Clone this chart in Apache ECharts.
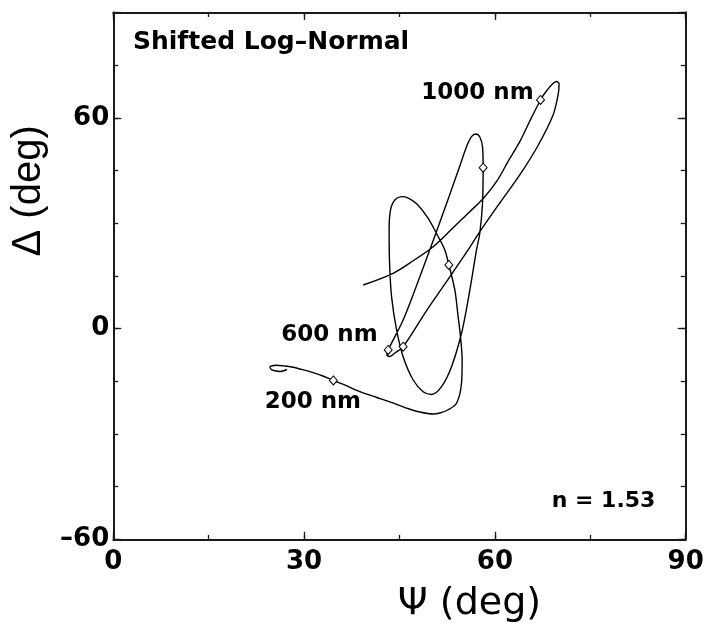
<!DOCTYPE html>
<html>
<head>
<meta charset="utf-8">
<script src="https://cdn.jsdelivr.net/npm/echarts@6/dist/echarts.min.js"></script>
<style>
html,body{margin:0;padding:0;background:#fff;}
#chart{width:705px;height:623px;}
</style>
</head>
<body>
<div id="chart"></div>
<script>
// Psi (deg) along the curve, 200 nm -> 1000 nm and beyond
const psi = [
  27.30, 26.20, 24.94, 24.63, 25.57, 26.98, 28.08, 29.34, 30.91, 32.95,
  34.60, 36.73, 38.77, 41.44, 43.96, 46.31, 48.20, 50.24, 51.34, 52.60,
  53.97, 54.75, 54.85, 54.59, 54.22, 53.70, 52.76, 52.13, 51.03, 49.46,
  47.73, 46.31, 45.45, 44.27, 43.59, 43.37, 43.44, 43.75, 44.54, 45.57,
  47.15, 48.72, 50.04, 51.61, 53.18, 54.75, 55.79, 57.11, 57.63, 58.05,
  58.15, 58.05, 57.63, 57.00, 56.32, 55.54, 54.48, 52.60, 50.56, 48.20,
  45.57, 43.22, 43.01, 43.48, 44.27, 45.57, 48.98, 52.39, 55.79, 57.63,
  60.77, 63.91, 66.74, 69.15, 69.93, 70.09, 69.68, 68.90, 67.84, 67.17,
  65.49, 63.91, 62.03, 60.25, 58.10, 56.05, 53.23, 50.29, 47.10, 44.00,
  39.29
];
// Delta (deg) along the curve
const delta = [
  -11.65, -12.22, -11.79, -10.93, -10.45, -10.65, -10.93, -11.50, -12.27, -13.50,
  -14.78, -16.34, -17.97, -19.62, -21.18, -22.75, -23.75, -24.32, -24.03, -23.18,
  -21.27, -15.58, -8.94, -2.31, 3.39, 10.99, 18.11, 22.38, 26.37, 31.49,
  35.48, 37.19, 37.56, 36.62, 33.77, 28.08, 18.59, 9.08, -0.40, -8.00,
  -14.64, -17.97, -18.76, -16.54, -10.85, -1.34, 8.14, 22.38, 27.22, 35.68,
  45.81, 51.79, 54.56, 55.41, 54.64, 51.79, 46.30, 36.62, 26.37, 14.78,
  2.45, -6.09, -7.52, -7.94, -6.95, -5.15, 4.36, 13.35, 22.38, 27.59,
  35.76, 43.74, 51.99, 60.82, 66.51, 69.65, 70.36, 69.36, 67.00, 65.09,
  59.11, 53.22, 47.44, 41.83, 36.90, 33.29, 28.36, 23.32, 19.25, 15.75,
  12.41
];
// Wavelength markers (diamonds)
const markerPsi   = [34.60, 43.22, 45.57, 52.76, 58.15, 67.17];
const markerDelta = [-14.78, -6.09, -5.15, 18.11, 45.81, 65.09];
const markerText  = ['200 nm', '600 nm', '', '', '', '1000 nm'];

const xTicks = [0, 30, 60, 90];
const yTicks = [-60, 0, 60];
const titleText = 'Shifted Log\u2013Normal';
const noteText = 'n = 1.53';
const xName = '\u03A8 (deg)';
const yName = '\u0394 (deg)';

const BOLD = {fontFamily: 'DejaVu Sans', fontWeight: 'bold', color: '#000'};
const AX = '#1a1a1a';

const labelOffsets = {
  0: [32.2, 22],
  1: [-6, -14.5],
  5: [-2.4, -7.2]
};

const lineData = psi.map((p, i) => [p, delta[i]]);
const markerData = markerPsi.map((p, i) => {
  const item = {value: [p, markerDelta[i]], name: markerText[i]};
  if (markerText[i]) {
    item.label = {show: true, offset: labelOffsets[i]};
  }
  return item;
});

function fmtMinus(v) { return v < 0 ? '\u2013' + Math.abs(v) : String(v); }

function xAx(pos, minor, showLabel) {
  return {
    type: 'value', position: pos, min: 0, max: 90,
    interval: minor ? 15 : 30,
    axisLine: {show: minor, onZero: false, lineStyle: {color: AX, width: 2}},
    axisTick: {show: true, inside: true, length: minor ? 4.5 : 7.5, lineStyle: {color: AX, width: 1.3}},
    axisLabel: showLabel ? Object.assign({
      show: true, margin: 10, fontSize: 26,
      formatter: v => xTicks.indexOf(v) >= 0 ? String(v) : ''
    }, BOLD) : {show: false},
    splitLine: {show: false},
    name: showLabel ? xName : '',
    nameLocation: 'middle', nameGap: 46,
    nameTextStyle: {fontFamily: 'DejaVu Sans', fontSize: 38, color: '#000', padding: [0, 0, 0, 140]}
  };
}
function yAx(pos, minor, showLabel) {
  return {
    type: 'value', position: pos, min: -60, max: 90,
    interval: minor ? 15 : 60,
    axisLine: {show: minor, onZero: false, lineStyle: {color: AX, width: 2}},
    axisTick: {show: true, inside: true, length: minor ? 5 : 8, lineStyle: {color: AX, width: 1.3}},
    axisLabel: showLabel ? Object.assign({
      show: true, margin: 4, fontSize: 26, showMaxLabel: false,
      formatter: v => yTicks.indexOf(v) >= 0 ? fmtMinus(v) : ''
    }, BOLD) : {show: false},
    splitLine: {show: false},
    name: showLabel ? yName : '',
    nameLocation: 'middle', nameGap: 60, nameRotate: 90,
    nameTextStyle: {fontFamily: 'Liberation Sans', fontSize: 40, color: '#000', padding: [0, 0, 0, 170]}
  };
}

const chart = echarts.init(document.getElementById('chart'), null, {renderer: 'canvas'});
chart.setOption({
  animation: false,
  backgroundColor: '#fff',
  title: [
    {text: titleText, left: 133, top: 30.4, padding: 0,
     textStyle: Object.assign({fontSize: 25}, BOLD)},
    {text: noteText, left: 551.7, top: 490.4, padding: 0,
     textStyle: Object.assign({fontSize: 22}, BOLD)}
  ],
  grid: {left: 113.3, right: 19.3, top: 12.5, bottom: 83.7, containLabel: false, outerBoundsMode: 'none'},
  xAxis: [xAx('bottom', true, true), xAx('top', true, false), xAx('bottom', false, false), xAx('top', false, false)],
  yAxis: [yAx('left', true, true), yAx('right', true, false), yAx('left', false, false), yAx('right', false, false)],
  series: [
    {type: 'line', data: lineData, xAxisIndex: 0, yAxisIndex: 0,
     showSymbol: false, symbol: 'none', smooth: 0.3,
     lineStyle: {color: '#000', width: 1.4}, z: 2},
    {type: 'scatter', data: markerData, xAxisIndex: 0, yAxisIndex: 0,
     symbol: 'diamond', symbolSize: [8, 9],
     itemStyle: {color: '#fff', borderColor: '#000', borderWidth: 1, opacity: 1},
     label: {show: false, position: 'left', distance: 0, formatter: '{b}',
             fontFamily: 'DejaVu Sans', fontWeight: 'bold', fontSize: 23,
             color: '#000', opacity: 1, textBorderWidth: 0},
     emphasis: {disabled: true},
     z: 3}
  ]
});
</script>
</body>
</html>
